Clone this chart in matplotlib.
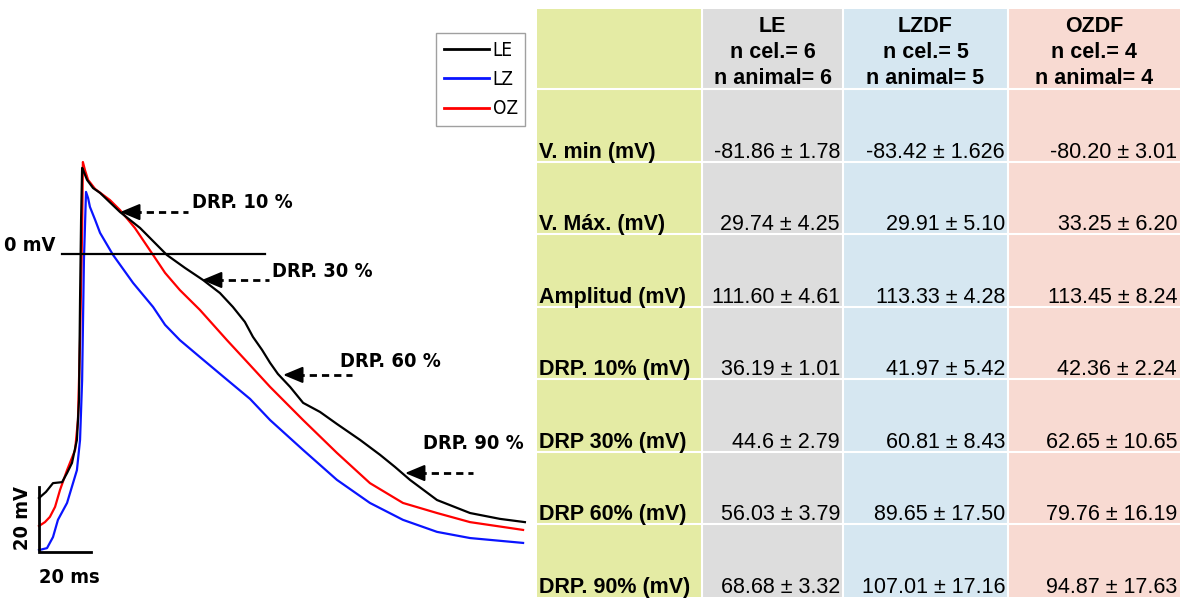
import numpy as np
import matplotlib.pyplot as plt
from matplotlib import font_manager

# action potential traces, time (ms) and membrane potential (mV)
le_t = [-0.4, 2.3, 5.0, 8.5, 10.4, 12.3, 14.2, 15.0, 15.4, 15.8, 16.2, 16.9, 18.1, 20.4, 23.1,
        30.8, 38.5, 48.8, 55.8, 62.7, 69.2, 74.2, 78.8, 81.9, 85.4, 88.5, 91.5, 96.2, 101.2,
        107.7, 114.2, 123.1, 130.8, 136.5, 142.3, 152.7, 165.4, 176.9, 186.5]
le_v = [-75.1, -73.2, -70.5, -70.2, -67.4, -64.3, -57.2, -44.9, -14.2, 10.5, 26.5, 25.2, 22.8,
        20.3, 18.8, 12.9, 8.0, -0.3, -4.3, -8.0, -12.0, -16.3, -20.9, -25.5, -29.5, -33.5, -36.9,
        -40.9, -45.8, -48.6, -52.3, -57.2, -61.8, -65.5, -69.5, -75.7, -79.7, -81.5, -82.5]

lz_t = [-0.4, 2.7, 5.0, 6.9, 10.4, 14.2, 15.4, 16.2, 16.9, 17.7, 18.5, 19.2, 21.2, 23.1, 28.1,
        35.8, 43.5, 48.1, 53.8, 61.5, 71.2, 80.8, 88.5, 101.2, 114.2, 126.9, 139.6, 152.7,
        165.4, 185.8]
lz_v = [-91.1, -90.5, -87.1, -81.8, -76.6, -66.5, -57.2, -38.8, -1.8, 19.1, 17.2, 14.5, 10.5,
        6.5, -0.3, -8.9, -16.3, -21.8, -26.5, -31.7, -38.2, -44.6, -51.1, -60.3, -69.5, -76.6,
        -81.8, -85.5, -87.4, -88.9]

oz_t = [-0.4, 1.9, 3.8, 5.8, 7.7, 10.4, 13.5, 14.6, 15.4, 16.2, 16.5, 17.3, 18.5, 21.2, 26.9,
        30.8, 36.5, 43.5, 48.1, 53.8, 61.5, 71.9, 80.8, 88.5, 101.2, 114.2, 126.9, 139.6, 152.7,
        165.4, 185.8]
oz_v = [-83.7, -82.5, -80.9, -77.8, -72.6, -66.5, -60.3, -51.1, -26.5, 7.4, 28.3, 25.8, 22.8,
        20.0, 16.6, 13.5, 8.0, -0.3, -5.8, -11.1, -17.2, -26.5, -34.2, -40.9, -51.1, -61.2,
        -70.5, -76.6, -79.7, -82.5, -84.9]

drp_labels = ["DRP. 10 %", "DRP. 30 %", "DRP. 60 %", "DRP. 90 %"]

# table
groups = ["LE", "LZDF", "OZDF"]
n_cells = [6, 5, 4]
n_animals = [6, 5, 4]
row_labels = ["V. min (mV)", "V. Máx. (mV)", "Amplitud (mV)", "DRP. 10% (mV)",
              "DRP 30% (mV)", "DRP 60% (mV)", "DRP. 90% (mV)"]
le_vals = ["-81.86 ± 1.78", "29.74 ± 4.25", "111.60 ± 4.61", "36.19 ± 1.01",
           "44.6 ± 2.79", "56.03 ± 3.79", "68.68 ± 3.32"]
lzdf_vals = ["-83.42 ± 1.626", "29.91 ± 5.10", "113.33 ± 4.28", "41.97 ± 5.42",
             "60.81 ± 8.43", "89.65 ± 17.50", "107.01 ± 17.16"]
ozdf_vals = ["-80.20 ± 3.01", "33.25 ± 6.20", "113.45 ± 8.24", "42.36 ± 2.24",
             "62.65 ± 10.65", "79.76 ± 16.19", "94.87 ± 17.63"]


def narrow_font():
    """Pick a condensed sans if one is installed, else plain Liberation Sans a bit smaller"""
    fonts = font_manager.fontManager.ttflist
    for f in fonts:
        if f.name in ("Liberation Sans Narrow", "Arial Narrow"):
            return {"family": [f.name, "DejaVu Sans"]}, 1.0
    for f in fonts:
        if f.name == "DejaVu Sans" and str(f.stretch) in ("condensed", "semi-condensed"):
            return {"family": ["DejaVu Sans"], "stretch": "condensed"}, 0.85
    return {"family": ["Liberation Sans", "DejaVu Sans"]}, 0.82


W, H = 1180, 599
fig = plt.figure(figsize=(W / 100, H / 100), dpi=100)
fig.patch.set_facecolor("white")

narrow, nscale = narrow_font()
arial = ["Liberation Sans", "DejaVu Sans"]

# ---- table (pixel coordinates) ----
tax = fig.add_axes([0, 0, 1, 1])
tax.set_xlim(0, W)
tax.set_ylim(H, 0)
tax.axis("off")

col_x = [537, 702, 843, 1008, 1180]
row_y = [9, 89] + list(89 + 72.57 * np.arange(1, 8))
col_colors = ["#e4eba4", "#dddddd", "#d6e7f1", "#f8dad2"]

for i, c in enumerate(col_colors):
    tax.add_patch(plt.Rectangle((col_x[i], row_y[0]), col_x[i + 1] - col_x[i],
                                row_y[-1] - row_y[0], facecolor=c, edgecolor="none"))
for y in row_y[1:-1]:
    tax.plot([col_x[0], col_x[-1]], [y, y], color="white", lw=1.5)
for x in col_x[1:-1]:
    tax.plot([x, x], [row_y[0], row_y[-1]], color="white", lw=1.5)

for j, g in enumerate(groups):
    cx = (col_x[j + 1] + col_x[j + 2]) / 2
    for k, line in enumerate([g, f"n cel.= {n_cells[j]}", f"n animal= {n_animals[j]}"]):
        tax.text(cx, 26 + 26 * k, line, ha="center", va="center", fontsize=15.5,
                 fontweight="bold", family=arial)

for i, lab in enumerate(row_labels):
    yb = row_y[i + 2] - 4
    tax.text(col_x[0] + 2, yb, lab, ha="left", va="baseline", fontsize=15.5,
             fontweight="bold", family=arial)
    for j, vals in enumerate([le_vals, lzdf_vals, ozdf_vals]):
        tax.text(col_x[j + 2] - 3, yb, vals[i], ha="right", va="baseline",
                 fontsize=15.5, family=arial)

# ---- traces (ms / mV) ----
ax = fig.add_axes([0, 0, 537 / W, 1])
px_ms, px_mv, x0, y0 = 2.6, 3.25, 40, 254
ax.set_xlim((0 - x0) / px_ms, (537 - x0) / px_ms)
ax.set_ylim((y0 - H) / px_mv, y0 / px_mv)
ax.axis("off")

l_oz, = ax.plot(oz_t, oz_v, color="#ff0000", lw=1.6, zorder=2)
l_lz, = ax.plot(lz_t, lz_v, color="#0a14ff", lw=1.6, zorder=2)
l_le, = ax.plot(le_t, le_v, color="black", lw=1.6, zorder=3)

fs = 17 * nscale
# 0 mV line and scale bars
ax.plot([8.5, 86.5], [0, 0], color="black", lw=1.6)
ax.text(5.8, 2.5, "0 mV", ha="right", va="center", fontsize=fs, fontweight="bold", **narrow)
ax.plot([-0.4, -0.4, 19.6], [-71.7, -91.7, -91.7], color="black", lw=2.0,
        solid_joinstyle="miter")
ax.text(-6.9, -81.2, "20 mV", ha="center", va="center", rotation=90, fontsize=fs,
        fontweight="bold", **narrow)
ax.text(11.2, -99.6, "20 ms", ha="center", va="center", fontsize=fs, fontweight="bold",
        **narrow)

# DRP markers: (arrow tip t, v, dashed end t, text t, text v)
drp_pos = [(30.8, 12.9, 56.9, 58.5, 15.7),
           (62.3, -8.0, 88.1, 89.2, -5.5),
           (93.5, -37.2, 120.0, 115.4, -33.2),
           (140.4, -67.4, 166.5, 147.3, -58.2)]
for lab, (tt, tv, te, xt, yt) in zip(drp_labels, drp_pos):
    ax.plot([tt + 5.5, te], [tv, tv], color="black", lw=2.0, dashes=(2.6, 1.8))
    ax.annotate("", xy=(tt, tv), xytext=(tt + 6.5, tv),
                arrowprops=dict(arrowstyle="-|>,head_length=0.6,head_width=0.25",
                                color="black", lw=1.5, shrinkA=0, shrinkB=0,
                                mutation_scale=20))
    ax.text(xt, yt, lab, ha="left", va="center", fontsize=fs, fontweight="bold", **narrow)

leg_prop = {"size": 16 * nscale, "family": narrow["family"]}
if "stretch" in narrow:
    leg_prop["stretch"] = narrow["stretch"]
leg = ax.legend([l_le, l_lz, l_oz], ["LE", "LZ", "OZ"], loc="upper left",
                bbox_to_anchor=(436 / W, 1 - 33 / H), bbox_transform=fig.transFigure,
                frameon=True, fancybox=False, framealpha=1, edgecolor="#a0a0a0",
                prop=leg_prop, handlelength=2.4, handletextpad=0.2,
                labelspacing=0.55, borderpad=0.4, borderaxespad=0)
leg.get_frame().set_linewidth(1.0)
for h in leg.get_lines():
    h.set_linewidth(2.0)

fig.savefig("out.png", dpi=100)
